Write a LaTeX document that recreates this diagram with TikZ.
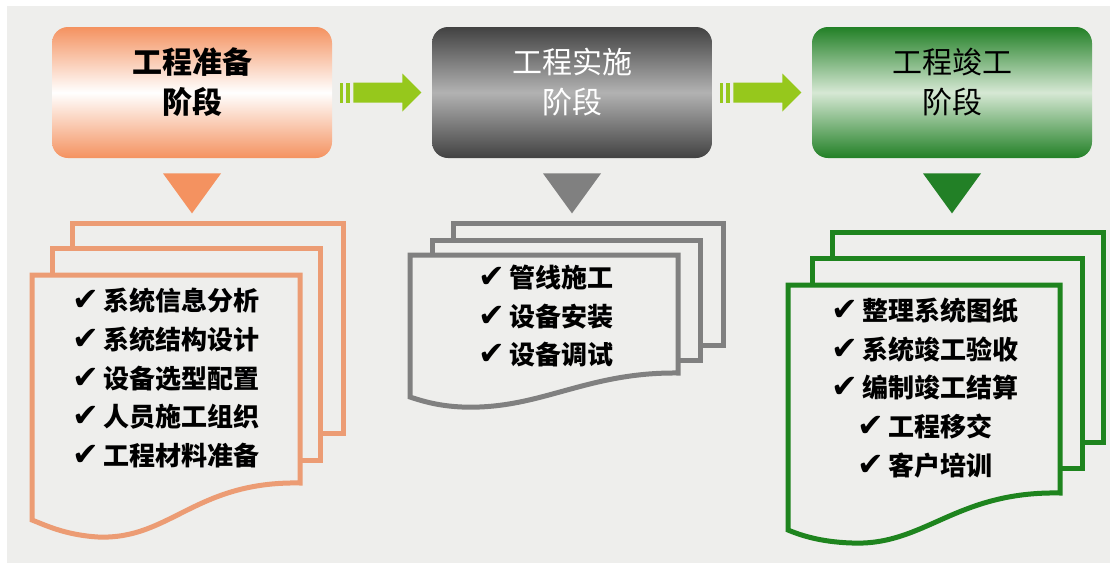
\documentclass[tikz,border=0pt]{standalone}
\usepackage{fontspec}
\newfontfamily\cjk{Noto Sans CJK SC}
\newfontfamily\sym{DejaVu Sans}
\usetikzlibrary{calc}

\definecolor{bggray}{RGB}{238,238,236}
\definecolor{prepc}{RGB}{244,146,96}
\definecolor{prepline}{RGB}{236,156,116}
\definecolor{implc}{RGB}{66,66,66}
\definecolor{implmid}{RGB}{178,178,178}
\definecolor{implline}{RGB}{128,128,128}
\definecolor{donec}{RGB}{34,128,38}
\definecolor{donemid}{RGB}{214,232,212}
\definecolor{doneline}{RGB}{30,132,30}
\definecolor{flowgreen}{RGB}{150,200,28}

\newcommand{\chk}{{\sym\fontsize{16}{16}\selectfont\char"2714}\,}

\tikzset{
  stage/.style={rounded corners=8pt, minimum width=140pt, minimum height=65.5pt,
    shading=axis, middle color=white, draw=none},
  stagename/.style={font=\cjk\fontsize{15}{20}\selectfont, align=center},
  listtext/.style={font=\cjk\bfseries\fontsize{13}{19.3}\selectfont, align=center},
  sheet/.style={line width=2.5pt, fill=bggray}
}

\begin{document}
\begin{tikzpicture}[x=0.5pt, y=-0.5pt]
    % background
    \fill[white] (0,0) rectangle (1110,563);
    \fill[bggray] (7,6) rectangle (1110,563);

    % stage boxes
    \node[stage, top color=prepc, bottom color=prepc, middle color=white] (prep) at (192,92.5) {};
    \node[stage, top color=implc, bottom color=implc, middle color=implmid] (impl) at (572,92.5) {};
    \node[stage, top color=donec, bottom color=donec, middle color=donemid] (done) at (952,92.5) {};

    \node[stagename, font=\cjk\bfseries\fontsize{15}{20}\selectfont] (prepname) at ($(prep.center)+(0,-10)$) {工程准备\\阶段};
    \node[stagename, white] (implname) at ($(impl.center)+(0,-10)$) {工程实施\\阶段};
    \node[stagename] (donename) at ($(done.center)+(0,-10)$) {工程竣工\\阶段};

    % green arrows between the stages
    \foreach \a in {prep, impl} {
        \fill[flowgreen] ($(\a.east)+(8,-10)$) rectangle ($(\a.east)+(11,10)$);
        \fill[flowgreen] ($(\a.east)+(14,-10)$) rectangle ($(\a.east)+(18,10)$);
        \fill[flowgreen] ($(\a.east)+(21,-10)$) -- ($(\a.east)+(70,-10)$) -- ($(\a.east)+(70,-19)$)
            -- ($(\a.east)+(89,0)$) -- ($(\a.east)+(70,19)$) -- ($(\a.east)+(70,10)$)
            -- ($(\a.east)+(21,10)$) -- cycle;
    }

    % down triangles
    \fill[prepc] ($(prep.south)+(-29,15)$) -- ($(prep.south)+(29,15)$) -- ($(prep.south)+(0,55)$) -- cycle;
    \fill[implline] ($(impl.south)+(-29,15)$) -- ($(impl.south)+(29,15)$) -- ($(impl.south)+(0,55)$) -- cycle;
    \fill[donec] ($(done.south)+(-29,15)$) -- ($(done.south)+(29,15)$) -- ($(done.south)+(0,55)$) -- cycle;

    % sheets, preparation
    \draw[sheet, draw=prepline] (72,223) rectangle (343,433);
    \draw[sheet, draw=prepline] (52,248) rectangle (320,460);
    \draw[sheet, draw=prepline] (32,275) -- (300,275) -- (300,483)
        .. controls (195,481) and (170,540) .. (98,537)
        .. controls (65,535) and (45,525) .. (32,520) -- cycle;

    % sheets, implementation
    \draw[sheet, draw=implline] (453,223) rectangle (723,345);
    \draw[sheet, draw=implline] (432,240) rectangle (700,360);
    \draw[sheet, draw=implline] (410,255) -- (678,255) -- (678,373)
        .. controls (585,372) and (540,410) .. (462,407)
        .. controls (440,406) and (425,402) .. (410,397) -- cycle;

    % sheets, completion
    \draw[sheet, draw=doneline] (832,232) rectangle (1103,442);
    \draw[sheet, draw=doneline] (812,258) rectangle (1082,468);
    \draw[sheet, draw=doneline] (788,285) -- (1060,285) -- (1060,493)
        .. controls (955,491) and (925,546) .. (852,543)
        .. controls (820,542) and (800,535) .. (788,530) -- cycle;

    % task lists
    \node[listtext] (preplist) at (166,378) {\chk 系统信息分析\\\chk 系统结构设计\\\chk 设备选型配置\\\chk 人员施工组织\\\chk 工程材料准备};
    \node[listtext] (impllist) at (546,316) {\chk 管线施工\\\chk 设备安装\\\chk 设备调试};
    \node[listtext] (donelist) at (925,388) {\chk 整理系统图纸\\\chk 系统竣工验收\\\chk 编制竣工结算\\\chk 工程移交\\\chk 客户培训};
\end{tikzpicture}
\end{document}
